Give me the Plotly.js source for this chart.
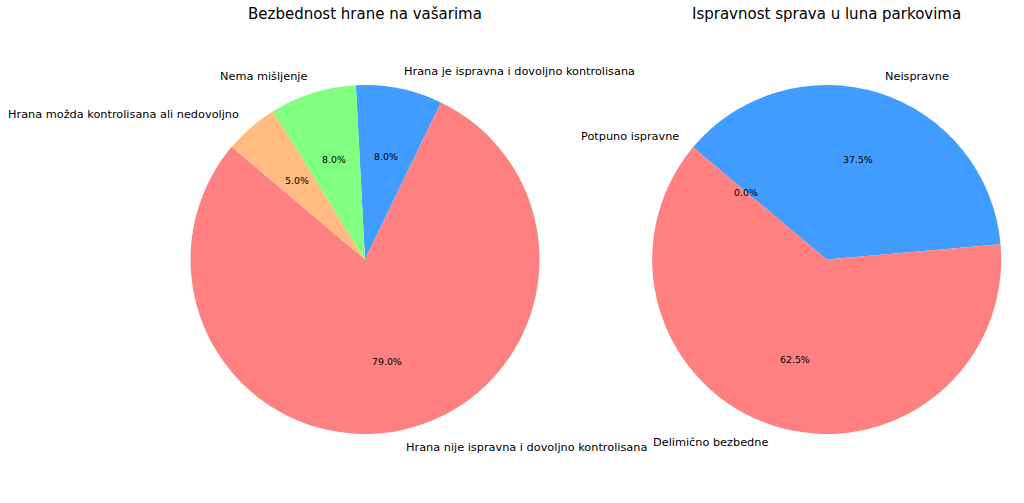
<!DOCTYPE html>
<html>
<head>
<meta charset="utf-8">
<script src="https://cdn.plot.ly/plotly-3.0.1.min.js"></script>
<style>html,body{margin:0;padding:0;background:#fff;}#chart{width:1024px;height:503px;}</style>
</head>
<body>
<div id="chart"></div>
<script>
// ---- data ----
const foodTitle = "Bezbednost hrane na vašarima";
const foodLabels = [
  "Hrana je ispravna i dovoljno kontrolisana",
  "Hrana nije ispravna i dovoljno kontrolisana",
  "Hrana možda kontrolisana ali nedovoljno",
  "Nema mišljenje"
];
const foodValues = [8, 79, 5, 8];
const foodColors = ["#409cff", "#ff8080", "#ffbb80", "#80ff80"];

const rideTitle = "Ispravnost sprava u luna parkovima";
const rideLabels = ["Potpuno ispravne", "Neispravne", "Delimično bezbedne"];
const rideValues = [0, 37.5, 62.5];
const rideColors = ["#80ff80", "#409cff", "#ff8080"];

// ---- layout constants ----
const W = 1024, H = 503;
const R = 174.5;
const pies = [
  {title: foodTitle, labels: foodLabels, values: foodValues, colors: foodColors, cx: 365, cy: 259.5, rot: -3},
  {title: rideTitle, labels: rideLabels, values: rideValues, colors: rideColors, cx: 826.7, cy: 259.5, rot: -50}
];
const FONT = "DejaVu Sans, sans-serif";

const traces = [];
const annotations = [];
pies.forEach(p => {
  traces.push({
    type: "pie",
    labels: p.labels,
    values: p.values,
    sort: false,
    direction: "clockwise",
    rotation: p.rot,
    textinfo: "none",
    hoverinfo: "none",
    showlegend: false,
    marker: {colors: p.colors, line: {width: 0}},
    domain: {
      x: [(p.cx - R) / W, (p.cx + R) / W],
      y: [1 - (p.cy + R) / H, 1 - (p.cy - R) / H]
    }
  });
  const total = p.values.reduce((a, b) => a + b, 0);
  let ang = p.rot;
  p.values.forEach((v, i) => {
    const span = v / total * 360;
    const mid = (ang + span / 2) * Math.PI / 180;
    ang += span;
    const s = Math.sin(mid), c = Math.cos(mid);
    const lx = p.cx + 1.1 * R * s, ly = p.cy - 1.1 * R * c;
    annotations.push({
      text: p.labels[i], xref: "paper", yref: "paper",
      x: lx / W, y: 1 - ly / H,
      xanchor: s > 0 ? "left" : "right", yanchor: "middle", borderpad: 0,
      showarrow: false, font: {family: FONT, size: 11.3, color: "#000"}
    });
    const tx = p.cx + 0.6 * R * s, ty = p.cy - 0.6 * R * c;
    annotations.push({
      text: (v / total * 100).toFixed(1) + "%", xref: "paper", yref: "paper",
      x: tx / W, y: 1 - ty / H,
      xanchor: "center", yanchor: "middle", borderpad: 0,
      showarrow: false, font: {family: FONT, size: 9.4, color: "#000"}
    });
  });
  annotations.push({
    text: p.title, xref: "paper", yref: "paper",
    x: p.cx / W, y: 1 - 14 / H, xanchor: "center", yanchor: "middle", borderpad: 0,
    showarrow: false, font: {family: FONT, size: 15, color: "#000"}
  });
});

Plotly.newPlot("chart", traces, {
  width: W, height: H,
  margin: {l: 0, r: 0, t: 0, b: 0},
  paper_bgcolor: "#fff", plot_bgcolor: "#fff",
  annotations: annotations
}, {displayModeBar: false, staticPlot: true});
</script>
</body>
</html>
